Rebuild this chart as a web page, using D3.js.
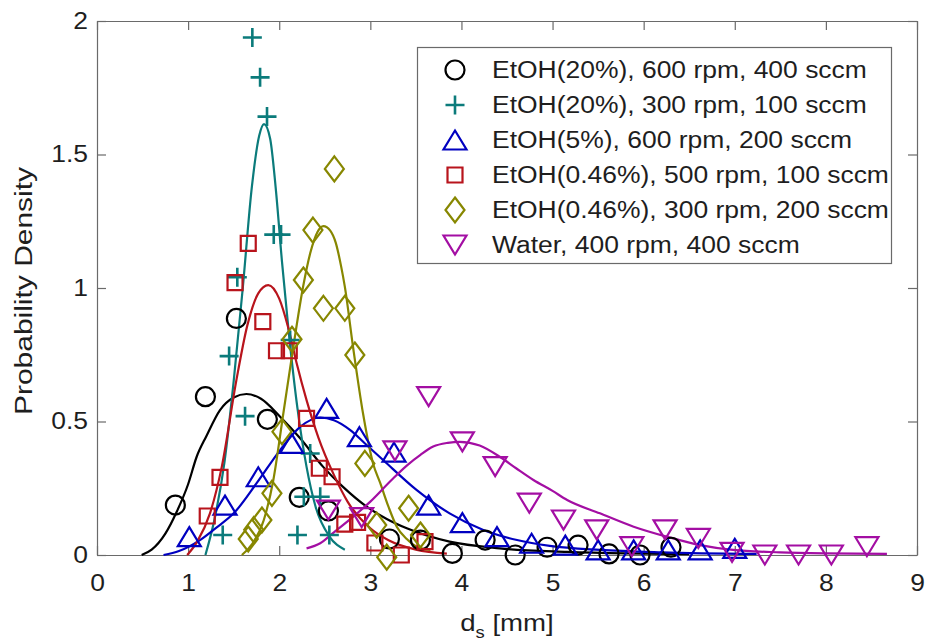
<!DOCTYPE html>
<html><head><meta charset="utf-8">
<script src="https://cdn.jsdelivr.net/npm/d3@7"></script>
<style>
body{margin:0;background:#fff}
svg{display:block}
text{font-family:"Liberation Sans",Arial,Helvetica,sans-serif;fill:#1e1e1e}
</style>
</head><body>
<svg id="chart" width="925" height="644"></svg>
<script>
// ---------- data ----------
const xTicks = [0,1,2,3,4,5,6,7,8,9];
const yTicks = [0,0.5,1,1.5,2];
const yTickLabels = ["0","0.5","1","1.5","2"];
const xLabelMain = "d", xLabelSub = "s", xLabelUnit = " [mm]";
const yLabel = "Probability Density";
const seriesNames = [
  "EtOH(20%), 600 rpm, 400 sccm",
  "EtOH(20%), 300 rpm, 100 sccm",
  "EtOH(5%), 600 rpm, 200 sccm",
  "EtOH(0.46%), 500 rpm, 100 sccm",
  "EtOH(0.46%), 300 rpm, 200 sccm",
  "Water, 400 rpm, 400 sccm"
];

// markers (measured points)
const blackX = [0.86,1.19,1.53,1.87,2.22,2.54,3.21,3.55,3.9,4.26,4.59,4.94,5.28,5.62,5.96,6.30];
const blackY = [0.187,0.593,0.886,0.508,0.216,0.165,0.06,0.056,0.006,0.056,0.0,0.029,0.037,0.004,0.0,0.029];
const tealX = [1.38,1.45,1.54,1.625,1.705,1.79,1.866,1.94,2.02,2.12,2.2,2.27,2.34,2.45,2.55];
const tealY = [0.075,0.745,1.04,0.52,1.938,1.789,1.642,1.2,1.2,0.805,0.075,0.218,0.38,0.218,0.075];
const blueX = [1.013,1.405,1.77,2.137,2.52,2.88,3.26,3.64,4.01,4.39,4.77,5.14,5.50,5.89,6.27,6.62,7.0];
const blueY = [0.069,0.187,0.293,0.418,0.549,0.443,0.385,0.187,0.121,0.069,0.044,0.037,0.019,0.019,0.019,0.019,0.025];
const redX = [1.21,1.35,1.515,1.66,1.82,1.97,2.11,2.30,2.44,2.58,2.72,2.86,3.05,3.34,3.6];
const redY = [0.146,0.291,1.02,1.167,0.874,0.765,0.765,0.512,0.325,0.293,0.116,0.122,0.045,0.0,0.05];
const oliveX = [1.66,1.72,1.81,1.92,2.03,2.14,2.265,2.37,2.485,2.605,2.72,2.83,2.94,3.07,3.18,3.42,3.55];
const oliveY = [0.06,0.095,0.131,0.231,0.462,0.808,1.03,1.217,0.924,1.446,0.924,0.749,0.343,0.112,-0.008,0.175,0.075];
const magX = [2.54,2.905,3.27,3.64,4.01,4.37,4.745,5.12,5.485,5.87,6.235,6.60,6.97,7.33,7.70,8.06,8.45];
const magY = [0.168,0.14,0.39,0.593,0.424,0.331,0.194,0.131,0.094,0.031,0.094,0.062,0.01,0.0,0.0,0.0,0.031];

// fitted curves
const fitBlackX = [0.49,0.6,0.75,0.875,1.0,1.094,1.2,1.35,1.5,1.64,1.8,2.01,2.23,2.48,2.7,2.96,3.18,3.4,3.87,4.42,5.16,5.8,6.5];
const fitBlackY = [0.0,0.02,0.08,0.162,0.265,0.368,0.445,0.543,0.59,0.603,0.585,0.518,0.437,0.331,0.255,0.181,0.135,0.1,0.05,0.025,0.012,0.006,0.003];
const fitTealX = [1.19,1.3,1.4,1.5,1.6,1.7,1.78,1.833,1.9,1.96,2.03,2.1,2.2,2.3,2.4,2.55,2.72];
const fitTealY = [0.0,0.15,0.35,0.65,1.0,1.38,1.57,1.614,1.56,1.38,1.1,0.85,0.55,0.33,0.18,0.07,0.02];
const fitBlueX = [0.73,0.9,1.13,1.3,1.5,1.75,2.01,2.23,2.45,2.6,2.78,2.95,3.14,3.51,3.87,4.24,4.61,4.97,5.52,6.2,7.24];
const fitBlueY = [0.0,0.015,0.056,0.1,0.156,0.268,0.393,0.48,0.515,0.505,0.468,0.415,0.356,0.243,0.156,0.094,0.056,0.034,0.019,0.01,0.004];
const fitRedX = [0.99,1.1,1.24,1.37,1.53,1.65,1.77,1.88,2.0,2.1,2.19,2.3,2.43,2.6,2.75,3.0,3.2,3.5,3.84];
const fitRedY = [0.0,0.05,0.156,0.331,0.655,0.86,0.98,1.011,0.96,0.85,0.72,0.58,0.44,0.3,0.2,0.1,0.055,0.02,0.005];
const fitOliveX = [1.59,1.7,1.83,1.935,2.045,2.155,2.265,2.34,2.42,2.485,2.56,2.62,2.68,2.72,2.81,2.92,3.03,3.11,3.2,3.29,3.4,3.51,3.66];
const fitOliveY = [0.0,0.04,0.13,0.28,0.53,0.78,1.01,1.13,1.21,1.232,1.215,1.17,1.08,1.005,0.78,0.53,0.343,0.268,0.18,0.106,0.06,0.031,0.019];
const fitMagX = [2.3,2.45,2.6,2.8,3.0,3.23,3.4,3.55,3.69,3.85,3.98,4.2,4.42,4.6,4.79,5.0,5.16,5.52,5.89,6.25,6.62,6.98,7.5,8.0,8.67];
const fitMagY = [0.025,0.044,0.085,0.14,0.2,0.28,0.335,0.375,0.406,0.42,0.424,0.41,0.368,0.325,0.281,0.24,0.206,0.156,0.106,0.069,0.037,0.019,0.01,0.006,0.004];

// ---------- styles ----------
const colors = ["#000000","#0b7b7b","#0000c0","#b8141c","#878700","#a30ea3"];
const shapes = ["circle","plus","up","square","diamond","down"];
const markerX = [blackX,tealX,blueX,redX,oliveX,magX];
const markerY = [blackY,tealY,blueY,redY,oliveY,magY];
const curveX = [fitBlackX,fitTealX,fitBlueX,fitRedX,fitOliveX,fitMagX];
const curveY = [fitBlackY,fitTealY,fitBlueY,fitRedY,fitOliveY,fitMagY];

const W = 925, H = 644;
const M = {left:97, right:W-917, top:21, bottom:H-555};
const svg = d3.select("#chart");
const x = d3.scaleLinear().domain([0,9]).range([M.left, W-M.right]);
const y = d3.scaleLinear().domain([0,2]).range([H-M.bottom, M.top]);
const HSTRETCH = 1.15;
const axisColor = "#6a6a6a";

function stretch(sel, k){
  sel.each(function(){
    const L = this.getComputedTextLength();
    this.setAttribute("textLength", L*k);
    this.setAttribute("lengthAdjust","spacingAndGlyphs");
  });
}

function markerPath(shape){
  switch(shape){
    case "circle": return d3.symbol(d3.symbolCircle, Math.PI*9.5*9.5)();
    case "plus": return "M-9.5,0H9.5M0,-9.5V9.5";
    case "up": return "M0,-9.5L11.5,9.5L-11.5,9.5Z";
    case "down": return "M-11.5,-9.5L11.5,-9.5L0,9.5Z";
    case "square": return "M-7.5,-7.5H7.5V7.5H-7.5Z";
    case "diamond": return "M0,-12.5L9.5,0L0,12.5L-9.5,0Z";
  }
}

// white background
svg.append("rect").attr("width",W).attr("height",H).attr("fill","#fff");

// axes
const gx = svg.append("g").attr("transform",`translate(0,${y(0)})`)
  .call(d3.axisBottom(x).tickValues(xTicks).tickFormat(d3.format("d")).tickSizeInner(-9).tickSizeOuter(0).tickPadding(20));
const gxt = svg.append("g").attr("transform",`translate(0,${y(2)})`)
  .call(d3.axisTop(x).tickValues(xTicks).tickFormat("").tickSizeInner(-9).tickSizeOuter(0));
const gy = svg.append("g").attr("transform",`translate(${x(0)},0)`)
  .call(d3.axisLeft(y).tickValues(yTicks).tickFormat((d,i)=>yTickLabels[i]).tickSizeInner(-9).tickSizeOuter(0).tickPadding(9));
const gyr = svg.append("g").attr("transform",`translate(${x(9)},0)`)
  .call(d3.axisRight(y).tickValues(yTicks).tickFormat("").tickSizeInner(-9).tickSizeOuter(0));
[gx,gxt,gy,gyr].forEach(g=>{
  g.select(".domain").attr("stroke",axisColor).attr("stroke-width",1.2);
  g.selectAll(".tick line").attr("stroke",axisColor).attr("stroke-width",1.2);
  g.selectAll(".tick text").attr("font-size",23).attr("fill","#1e1e1e")
   .attr("font-family",'"Liberation Sans",Arial,sans-serif');
});
gx.selectAll(".tick text").call(stretch, HSTRETCH);
gy.selectAll(".tick text").call(stretch, HSTRETCH);

const plot = svg.append("g");
const line = d3.line().x(d=>x(d[0])).y(d=>y(d[1])).curve(d3.curveMonotoneX);

// curves
curveX.forEach((cx,i)=>{
  const pts = cx.map((v,j)=>[v, curveY[i][j]]);
  plot.append("path").attr("d", line(pts)).attr("fill","none")
    .attr("stroke", colors[i]).attr("stroke-width", 2.2);
});
// markers
markerX.forEach((mx,i)=>{
  const pts = mx.map((v,j)=>[v, markerY[i][j]]);
  plot.append("g").selectAll("path").data(pts).join("path")
    .attr("transform", d=>`translate(${x(d[0])},${y(d[1])})`)
    .attr("d", markerPath(shapes[i]))
    .attr("fill","none").attr("stroke",colors[i])
    .attr("stroke-width", shapes[i]==="plus"?2.6:2.2);
});

// legend
const leg = svg.append("g");
leg.append("rect").attr("x",417.5).attr("y",47.5).attr("width",474).attr("height",216)
  .attr("fill","#fff").attr("stroke",axisColor).attr("stroke-width",1.2);
seriesNames.forEach((name,i)=>{
  const cy = 70 + 35*i;
  leg.append("path").attr("transform",`translate(455,${cy})`).attr("d",markerPath(shapes[i]))
    .attr("fill","none").attr("stroke",colors[i]).attr("stroke-width",shapes[i]==="plus"?2.6:2.2);
  leg.append("text").attr("x",492).attr("y",cy+8.3).attr("font-size",23).text(name).call(stretch, HSTRETCH);
});

// axis labels
const xl = svg.append("text").attr("x",(x(0)+x(9))/2).attr("y",631).attr("text-anchor","middle").attr("font-size",24);
xl.append("tspan").text(xLabelMain);
xl.append("tspan").attr("dy",7).attr("font-size",16).text(xLabelSub);
xl.append("tspan").attr("dy",-7).text(xLabelUnit);
xl.call(stretch, HSTRETCH);

svg.append("text").attr("transform",`translate(32,${(y(0)+y(2))/2+3}) rotate(-90)`)
  .attr("text-anchor","middle").attr("font-size",23).attr("textLength",248)
  .attr("lengthAdjust","spacingAndGlyphs").text(yLabel);
</script>
</body></html>
